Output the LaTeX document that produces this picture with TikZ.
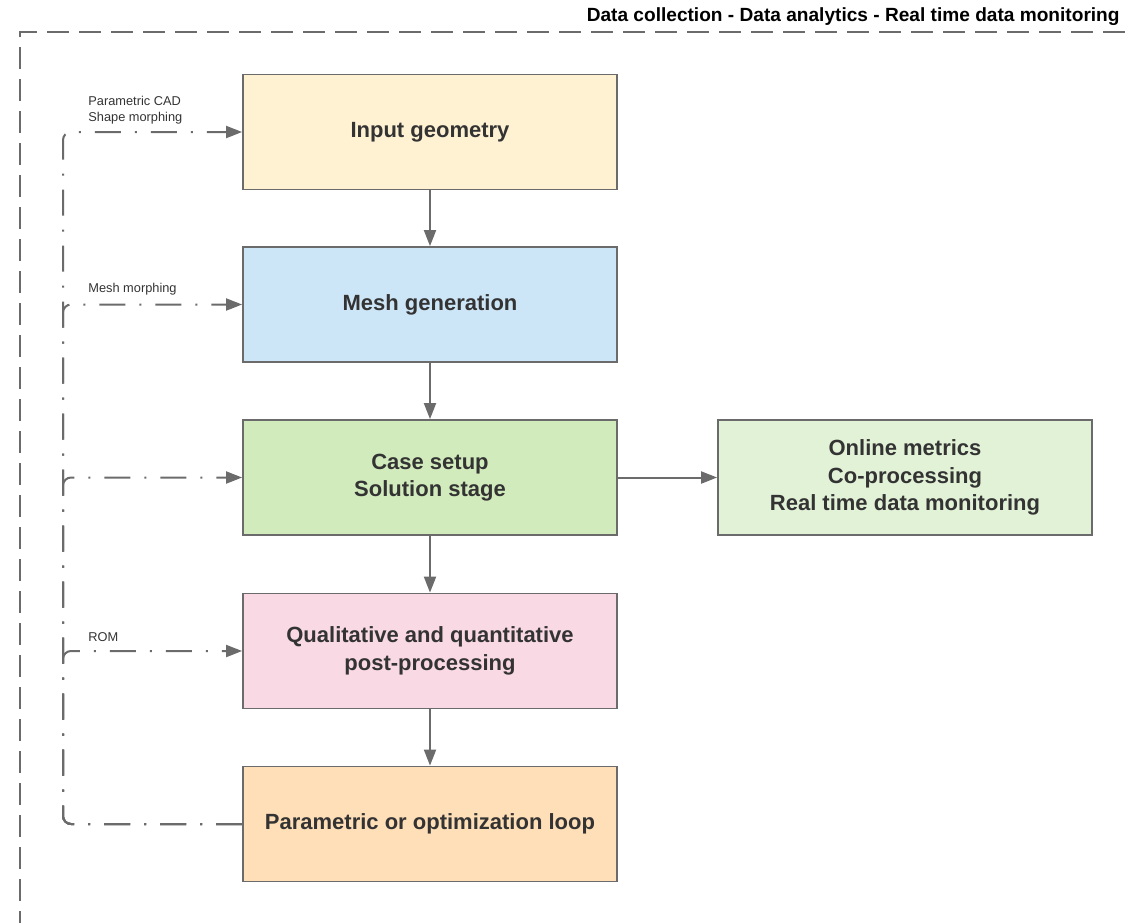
\documentclass[tikz,border=0pt]{standalone}
\usepackage{fontspec}
\setmainfont{Liberation Sans}
\usetikzlibrary{arrows.meta}
\definecolor{edge}{HTML}{6B6B6B}
\definecolor{ink}{HTML}{333333}
\definecolor{fillA}{HTML}{FFF2D3}
\definecolor{fillB}{HTML}{CDE6F7}
\definecolor{fillC}{HTML}{D2EBBD}
\definecolor{fillD}{HTML}{E2F2D7}
\definecolor{fillE}{HTML}{F9D9E3}
\definecolor{fillF}{HTML}{FFDFB8}
\tikzset{
  stage/.style={draw=edge, line width=0.9pt, minimum width=187pt, minimum height=57.5pt,
    inner sep=2pt, align=center, text=ink, font=\fontsize{11}{13.75}\selectfont\bfseries},
  flow/.style={draw=edge, line width=1pt, -{Triangle[length=8pt,width=6pt]}},
  loopline/.style={draw=edge, line width=1pt, rounded corners=4pt,
    dash pattern=on 13pt off 7pt on 1pt off 7pt},
  looparrow/.style={loopline, -{Triangle[length=8pt,width=6pt]}},
  border/.style={draw=edge, line width=1pt, dash pattern=on 11pt off 5pt},
  tag/.style={text=ink, font=\fontsize{6.4}{8}\selectfont, inner sep=0pt, align=left, anchor=south west}
}
\begin{document}
\begin{tikzpicture}[x=0.5pt, y=-0.5pt]
\useasboundingbox (0,0) rectangle (1125,923);

% monitoring frame
\coordinate (frameR) at (1125,32);
\coordinate (frameTL) at (20,32);
\coordinate (frameB) at (20,923);
\draw[border] (frameR) -- (frameTL) -- (frameB);
\node[anchor=base east, inner sep=0pt, font=\fontsize{9.55}{11}\selectfont\bfseries, text=black]
  (frametitle) at (1120,21) {Data collection - Data analytics - Real time data monitoring};

% stages
\node[stage, fill=fillA] (geom) at (430,132) {Input geometry};
\node[stage, fill=fillB] (mesh) at (430,304.5) {Mesh generation};
\node[stage, fill=fillC] (setup) at (430,477.5) {Case setup\\Solution stage};
\node[stage, fill=fillD] (online) at (905,477.5) {Online metrics\\Co-processing\\Real time data monitoring};
\node[stage, fill=fillE] (post) at (430,651) {Qualitative and quantitative\\post-processing};
\node[stage, fill=fillF] (loop) at (430,824) {Parametric or optimization loop};

% main flow
\draw[flow] (geom) -- (mesh);
\draw[flow] (mesh) -- (setup);
\draw[flow] (setup) -- (post);
\draw[flow] (post) -- (loop);
\draw[flow] (setup) -- (online);

% feedback from the loop
\draw[looparrow] (loop.west) -| (63,304.5) -- (mesh.west);
\draw[looparrow] (loop.west) -| (63,477.5) -- (setup.west);
\draw[looparrow] (loop.west) -| (63,651) -- (post.west);
\draw[looparrow] (loop.west) -| (63,132) -- (geom.west);

% feedback labels
\node[tag] (tagA) at (88,125) {Parametric CAD\\Shape morphing};
\node[tag] (tagB) at (88,296) {Mesh morphing};
\node[tag] (tagC) at (88,642) {ROM};
\end{tikzpicture}
\end{document}
